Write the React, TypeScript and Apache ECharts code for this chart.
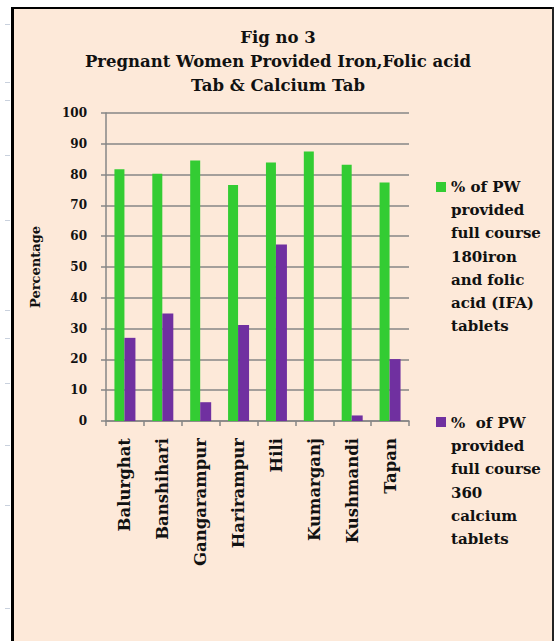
import React, { useEffect, useRef } from "react";
import * as echarts from "echarts";

const categories = ["Balurghat", "Banshihari", "Gangarampur", "Harirampur", "Hili", "Kumarganj", "Kushmandi", "Tapan"];
const ifaValues = [81.7, 80.3, 84.6, 76.6, 83.9, 87.5, 83.2, 77.4];
const calciumValues = [27.0, 34.9, 6.1, 31.2, 57.3, 0, 1.8, 20.1];
const ifaName = "% of PW\nprovided\nfull course\n180iron\nand folic\nacid (IFA)\ntablets";
const calciumName = "%  of PW\nprovided\nfull course\n360\ncalcium\ntablets";
const titleText = "Fig no 3\nPregnant Women Provided Iron,Folic acid\nTab & Calcium Tab";
const yAxisName = "Percentage";
const leftMarks = [24, 82, 100, 155, 220, 310, 338, 383, 445, 505, 608];

const FONT = "DejaVu Serif";
const GREEN = "#33CC33";
const PURPLE = "#7030A0";

export default function App() {
  const ref = useRef<HTMLDivElement>(null);
  useEffect(() => {
    if (!ref.current) return;
    const chart = echarts.init(ref.current, undefined, { renderer: "svg" });
    const legendText = {
      fontFamily: FONT,
      fontWeight: "bold" as const,
      fontSize: 15,
      lineHeight: 23.3,
      color: "#111",
    };
    chart.setOption({
      animation: false,
      backgroundColor: "#ffffff",
      title: {
        text: titleText,
        left: "center",
        top: 20,
        textStyle: {
          fontFamily: FONT,
          fontWeight: "bold",
          fontSize: 16.5,
          lineHeight: 24,
          color: "#111",
        },
      },
      graphic: [
        {
          type: "rect",
          z: -10,
          shape: { x: 12, y: 8, width: 541, height: 640 },
          style: { fill: "#FDE9D9", stroke: "none" },
        },
        { type: "line", z: -9, shape: { x1: 12.5, y1: 7, x2: 12.5, y2: 641 }, style: { stroke: "#000", lineWidth: 3 } },
        { type: "line", z: -9, shape: { x1: 11, y1: 8, x2: 554, y2: 8 }, style: { stroke: "#000", lineWidth: 2 } },
        { type: "line", z: -9, shape: { x1: 553, y1: 7, x2: 553, y2: 641 }, style: { stroke: "#222", lineWidth: 2 } },
        ...leftMarks.map((y) => ({
          type: "line",
          z: -9,
          shape: { x1: 5, y1: y + 0.5, x2: 10, y2: y + 0.5 },
          style: { stroke: "#C9D1DD", lineWidth: 1 },
        })),
      ],
      legend: [
        {
          orient: "vertical",
          left: 431,
          top: 170,
          itemWidth: 10,
          itemHeight: 161,
          itemGap: 10,
          icon: "path://M0,0h0.01v0.01h-0.01Z M0,6H10V16H0Z M0,160.99h0.01v0.01h-0.01Z",
          textStyle: legendText,
          data: [ifaName],
          selectedMode: false,
        },
        {
          orient: "vertical",
          left: 431,
          top: 406,
          itemWidth: 10,
          itemHeight: 140,
          itemGap: 10,
          icon: "path://M0,0h0.01v0.01h-0.01Z M0,6H10V16H0Z M0,139.99h0.01v0.01h-0.01Z",
          textStyle: legendText,
          data: [calciumName],
          selectedMode: false,
        },
      ],
      grid: {
        left: 106,
        right: 147,
        top: 113,
        bottom: 220,
        containLabel: false,
      },
      xAxis: {
        type: "category",
        data: categories,
        axisLine: { show: true, lineStyle: { color: "#868686", width: 1.5 } },
        axisTick: { show: true, alignWithLabel: false, length: 5, lineStyle: { color: "#868686", width: 1.5 } },
        axisLabel: {
          rotate: 90,
          margin: 17,
          fontFamily: FONT,
          fontWeight: "bold",
          fontSize: 16.5,
          color: "#111",
        },
      },
      yAxis: {
        type: "value",
        min: 0,
        max: 100,
        interval: 10,
        name: yAxisName,
        nameLocation: "middle",
        nameGap: 64,
        nameTextStyle: {
          fontFamily: FONT,
          fontWeight: "bold",
          fontSize: 13,
          color: "#111",
        },
        axisLine: { show: true, lineStyle: { color: "#868686", width: 1.5 } },
        axisTick: { show: true, length: 5, inside: false, lineStyle: { color: "#868686", width: 1.5 } },
        splitLine: { show: true, lineStyle: { color: "#868686", width: 1.5 } },
        axisLabel: {
          margin: 19,
          fontFamily: FONT,
          fontWeight: "bold",
          fontSize: 12,
          color: "#111",
        },
      },
      series: [
        {
          name: ifaName,
          type: "bar",
          data: ifaValues,
          barWidth: 10,
          barGap: "0%",
          itemStyle: { color: GREEN },
        },
        {
          name: calciumName,
          type: "bar",
          data: calciumValues,
          barWidth: 11,
          barGap: "0%",
          itemStyle: { color: PURPLE },
        },
      ],
    });
    return () => chart.dispose();
  }, []);
  return (
    <div
      ref={ref}
      style={{ position: "fixed", left: 0, top: 0, width: 556, height: 641 }}
    />
  );
}
